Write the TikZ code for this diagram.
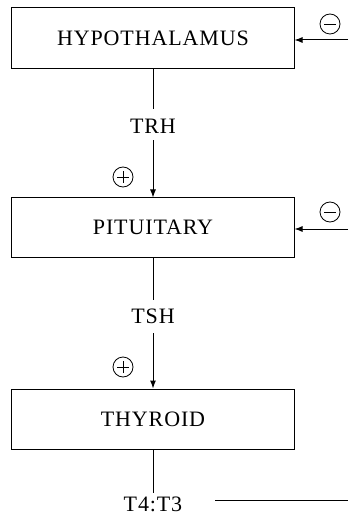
\documentclass[tikz,border=0pt]{standalone}
\usepackage{fontspec}
\setmainfont[LetterSpace=4]{Liberation Serif}
\usetikzlibrary{arrows.meta}
\begin{document}
\begin{tikzpicture}[x=1bp,y=-1bp,
  organ/.style={draw,line width=1bp,minimum width=282bp,inner sep=0pt,font=\fontsize{22bp}{26bp}\selectfont},
  hormone/.style={inner sep=0pt,text height=14.5bp,text depth=0pt,font=\fontsize{22bp}{26bp}\selectfont},
  link/.style={line width=1bp},
  stim/.style={line width=1bp,-{Latex[length=8bp,width=6bp]}},
  sign/.style={draw,circle,line width=0.8bp,minimum size=20bp,inner sep=0pt}]
\useasboundingbox (0,0) rectangle (348,515);
\node[organ,minimum height=61bp] (hyp) at (153,38) {HYPOTHALAMUS};
\node[organ,minimum height=59bp] (pit) at (153,227.5) {PITUITARY};
\node[organ,minimum height=60bp] (thy) at (153,419) {THYROID};
\node[hormone] (trh) at (153,126) {TRH};
\node[hormone] (tsh) at (153,316) {TSH};
\node[hormone] (t43) at (153,504) {T4:T3};
\draw[link,shorten >=10bp] (hyp.south) -- (trh.north);
\draw[stim,shorten <=7bp] (trh.south) -- (pit.north);
\draw[link,shorten >=9bp] (pit.south) -- (tsh.north);
\draw[stim,shorten <=10bp] (tsh.south) -- (thy.north);
\draw[link,shorten >=4bp] (thy.south) -- (t43.north);
\coordinate (fbend) at (348,500);
\coordinate (fstart) at (215,500);
\draw[link] (fstart) -- (fbend);
\coordinate (hin) at (348,40);
\coordinate (pin) at (348,229);
\draw[stim] (hin) -- (hyp.east |- hin);
\draw[stim] (pin) -- (pit.east |- pin);
\node[sign] (hm) at (330,24) {};
\draw[line width=0.8bp] ([xshift=-6bp]hm.center) -- ([xshift=6bp]hm.center);
\node[sign] (pm) at (330,212) {};
\draw[line width=0.8bp] ([xshift=-6bp]pm.center) -- ([xshift=6bp]pm.center);
\node[sign] (tp) at (123,177) {};
\draw[line width=0.8bp] ([xshift=-6bp]tp.center) -- ([xshift=6bp]tp.center) ([yshift=-6bp]tp.center) -- ([yshift=6bp]tp.center);
\node[sign] (sp) at (123,367) {};
\draw[line width=0.8bp] ([xshift=-6bp]sp.center) -- ([xshift=6bp]sp.center) ([yshift=-6bp]sp.center) -- ([yshift=6bp]sp.center);
\end{tikzpicture}
\end{document}
